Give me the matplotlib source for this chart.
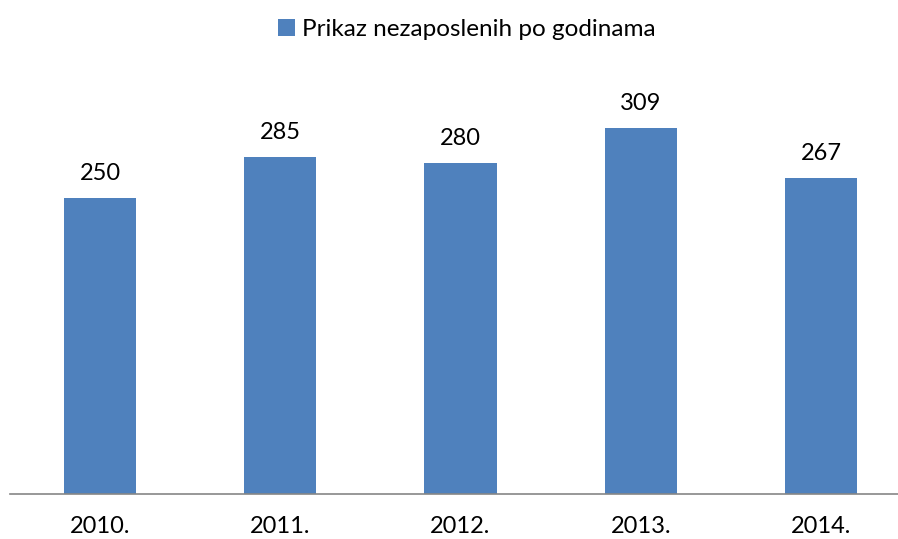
import matplotlib.pyplot as plt

plt.rcParams['font.family'] = ['Lato', 'DejaVu Sans']

years = ['2010.', '2011.', '2012.', '2013.', '2014.']
unemployed = [250, 285, 280, 309, 267]
series_name = 'Prikaz nezaposlenih po godinama'

fig = plt.figure(figsize=(8.98, 5.39), dpi=100)
ax = fig.add_axes([10 / 898, 45 / 539, 901 / 898, 414 / 539])

x = range(len(years))
bars = ax.bar(x, unemployed, width=0.4, color='#4F81BD', label=series_name)
for xi, v in zip(x, unemployed):
    ax.text(xi, v + 12, str(v), ha='center', va='bottom', fontsize=17, color='black')

ax.set_xlim(-0.5, 4.5)
ax.set_ylim(0, 350)
ax.set_xticks(list(x))
ax.set_xticklabels(years, fontsize=17)
ax.tick_params(axis='x', length=0, pad=16)
ax.set_yticks([])
for side in ['top', 'right', 'left']:
    ax.spines[side].set_visible(False)
ax.spines['bottom'].set_color('#868686')
ax.spines['bottom'].set_linewidth(1.2)

fig.legend(handles=[bars], labels=[series_name], loc='upper center',
           bbox_to_anchor=(0.52, 1.005), frameon=False, fontsize=17.5,
           handlelength=0.7, handleheight=0.7, handletextpad=0.3)

fig.savefig('out.png', dpi=100)
